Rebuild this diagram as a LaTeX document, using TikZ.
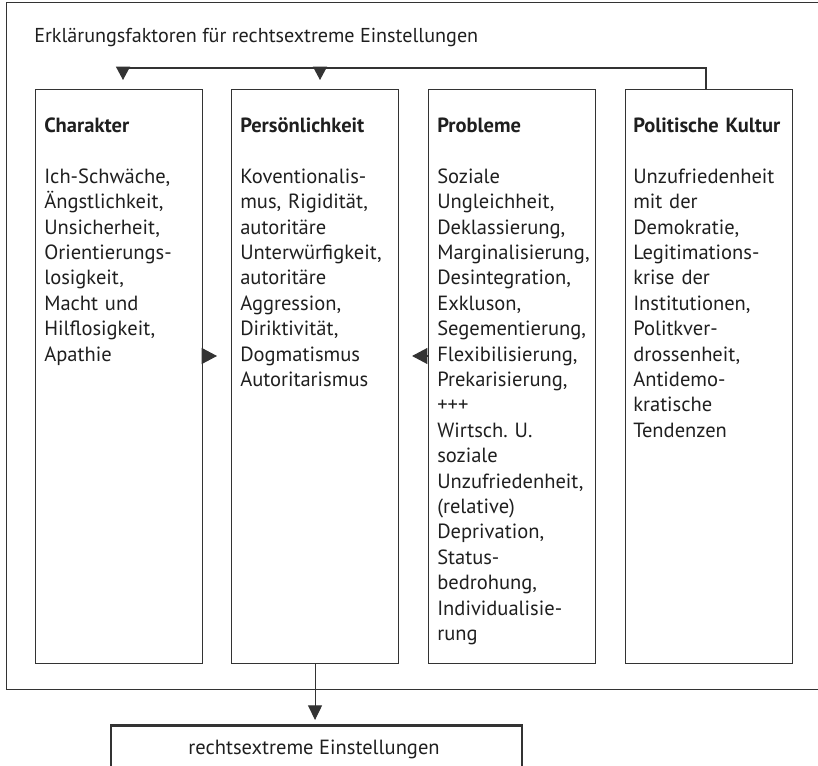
\documentclass[tikz,border=0pt]{standalone}
\usepackage{fontspec}
\setmainfont{PT Sans}
\usetikzlibrary{arrows.meta,calc}
\definecolor{linegray}{gray}{0.2}
\definecolor{txt}{gray}{0.12}
\frenchspacing
\begin{document}
\begin{tikzpicture}[x=0.75pt,y=-0.75pt,
  frame/.style={draw=linegray, line width=0.9pt, anchor=north west, inner sep=0pt,
    minimum width=625.5pt, minimum height=515.25pt},
  box/.style={draw=linegray, line width=0.8pt, minimum width=125.25pt,
    minimum height=430.5pt, inner sep=0pt, anchor=north west},
  boxtext/.style={anchor=north west, inner sep=0pt, text width=122pt, align=left,
    font=\fontsize{15.4}{19.05}\selectfont, text=txt},
  resbox/.style={draw=linegray, line width=2.2pt, anchor=north west, inner sep=0pt,
    minimum width=308.25pt, minimum height=60pt},
  conn/.style={draw=linegray, line width=0.8pt},
  toparr/.style={conn, -{Triangle[length=10pt,width=10.5pt]}},
  sidearr/.style={conn, -{Triangle[length=11.5pt,width=12pt]}},
  botarr/.style={conn, -{Triangle[length=11pt,width=10.5pt]}}]
\useasboundingbox (0,0) rectangle (818,766);

\node[frame] (frame) at (6,2) {};
\node[anchor=base west, inner sep=0pt, font=\fontsize{15.1}{18}\selectfont, text=txt]
  (title) at (34,43) {Erklärungsfaktoren für rechtsextreme Einstellungen};

\node[box] (b1) at (35,89) {};
\node[box] (b2) at (231,89) {};
\node[box] (b3) at (428,89) {};
\node[box] (b4) at (625,89) {};

\node[boxtext] (t1) at ($(b1.north west)+(9,25.5)$) {\strut\textbf{Charakter}\\[19.05pt]
Ich-Schwäche,\\Ängstlichkeit,\\Unsicherheit,\\Orientierungs-\\losigkeit,\\Macht und\\Hilflosigkeit,\\Apathie};
\node[boxtext] (t2) at ($(b2.north west)+(9,25.5)$) {\strut\textbf{Persönlichkeit}\\[19.05pt]
Koventionalis-\\mus, Rigidität,\\autoritäre\\Unterwürfigkeit,\\autoritäre\\Aggression,\\Diriktivität,\\Dogmatismus\\Autoritarismus};
\node[boxtext] (t3) at ($(b3.north west)+(9,25.5)$) {\strut\textbf{Probleme}\\[19.05pt]
Soziale\\Ungleichheit,\\Deklassierung,\\Marginalisierung,\\Desintegration,\\Exkluson,\\Segementierung,\\Flexibilisierung,\\Prekarisierung,\\+++\\Wirtsch.\ U.\\soziale\\Unzufriedenheit,\\(relative)\\Deprivation,\\Status-\\bedrohung,\\Individualisie-\\rung};
\node[boxtext] (t4) at ($(b4.north west)+(8,25.5)$) {\strut\textbf{Politische Kultur}\\[19.05pt]
Unzufriedenheit\\mit der\\Demokratie,\\Legitimations-\\krise der\\Institutionen,\\Politkver-\\drossenheit,\\Antidemo-\\kratische\\Tendenzen};

% top connector
\coordinate (h0) at (123,68);
\coordinate (h1) at (320,68);
\coordinate (h2) at (706,68);
\draw[conn] (h0) -- (h2) -- (h2 |- b4.north);
\draw[toparr, shorten >=6.75pt] (h0) -- (h0 |- b1.north);
\draw[toparr, shorten >=6.75pt] (h1) -- (h1 |- b2.north);

% side arrows
\coordinate (a1) at ($(b1.north east)+(0,267)$);
\coordinate (a3) at ($(b3.north west)+(0,267)$);
\draw[sidearr, shorten >=10.5pt] (a1) -- (a1 -| b2.west);
\draw[sidearr, shorten >=9.75pt] (a3) -- (a3 -| b2.east);

% result
\node[resbox] (res) at (109.5,724) {};
\node[anchor=base, inner sep=0pt, font=\fontsize{15.4}{19}\selectfont, text=txt]
  (restext) at (314,754) {rechtsextreme Einstellungen};
\draw[botarr, shorten >=3pt] (b2.south) -- (b2.south |- res.north);
\end{tikzpicture}
\end{document}
